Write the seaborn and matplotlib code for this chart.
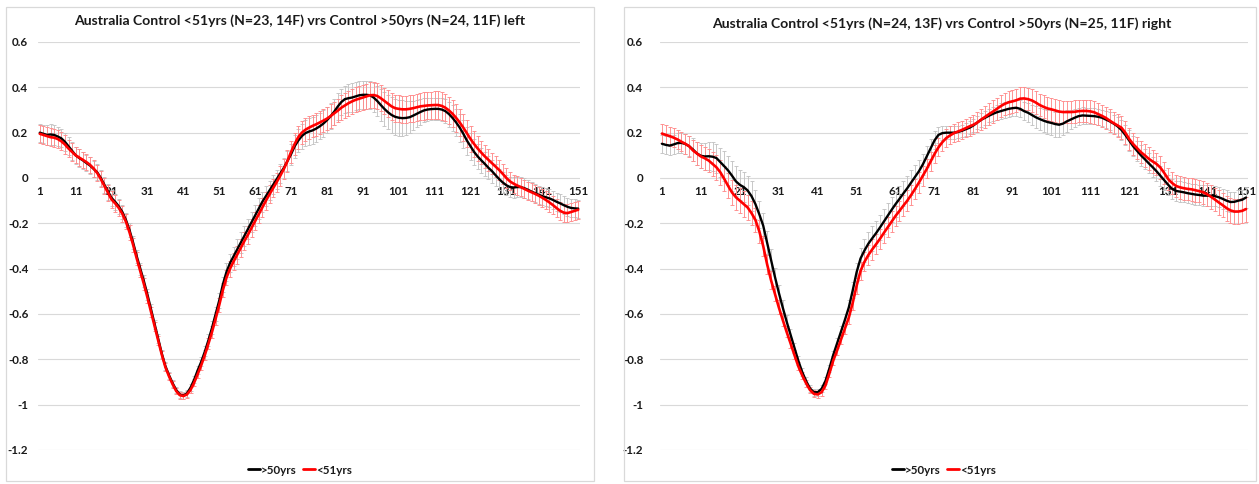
import numpy as np
import pandas as pd
import matplotlib
matplotlib.use("Agg")
import matplotlib.pyplot as plt
from matplotlib.patches import Rectangle
from matplotlib.lines import Line2D
import seaborn as sns

# ---------------- data ----------------
TITLE_LEFT = "Australia Control <51yrs (N=23, 14F) vrs Control >50yrs (N=24, 11F) left"
TITLE_RIGHT = "Australia Control <51yrs (N=24, 13F) vrs Control >50yrs (N=25, 11F) right"
SERIES = [">50yrs", "<51yrs"]
X_TICK_LABELS = ["1", "11", "21", "31", "41", "51", "61", "71", "81", "91",
                 "101", "111", "121", "131", "141", "151"]
Y_TICKS = [0.6, 0.4, 0.2, 0, -0.2, -0.4, -0.6, -0.8, -1, -1.2]
Y_TICK_LABELS = ["0.6", "0.4", "0.2", "0", "-0.2", "-0.4", "-0.6", "-0.8", "-1", "-1.2"]

left_old = [
    0.200, 0.195, 0.190, 0.192, 0.190, 0.183, 0.175, 0.160, 0.140, 0.120,
    0.100, 0.088, 0.078, 0.066, 0.055, 0.040, 0.025, 0.000, -0.030, -0.060,
    -0.088, -0.105, -0.125, -0.150, -0.185, -0.230, -0.285, -0.345, -0.400, -0.455,
    -0.515, -0.580, -0.645, -0.710, -0.775, -0.830, -0.870, -0.905, -0.935, -0.955,
    -0.960, -0.950, -0.925, -0.890, -0.848, -0.810, -0.765, -0.715, -0.660, -0.600,
    -0.540, -0.470, -0.415, -0.375, -0.345, -0.315, -0.285, -0.255, -0.225, -0.195,
    -0.165, -0.135, -0.105, -0.080, -0.055, -0.030, -0.005, 0.020, 0.045, 0.075,
    0.105, 0.140, 0.165, 0.185, 0.198, 0.205, 0.210, 0.218, 0.228, 0.240,
    0.255, 0.272, 0.292, 0.315, 0.335, 0.348, 0.352, 0.355, 0.360, 0.365,
    0.367, 0.367, 0.365, 0.355, 0.340, 0.322, 0.305, 0.290, 0.278, 0.270,
    0.266, 0.264, 0.265, 0.268, 0.275, 0.283, 0.291, 0.298, 0.302, 0.304,
    0.305, 0.305, 0.302, 0.295, 0.282, 0.265, 0.245, 0.222, 0.195, 0.165,
    0.140, 0.115, 0.095, 0.078, 0.062, 0.045, 0.030, 0.012, -0.005, -0.020,
    -0.032, -0.040, -0.042, -0.040, -0.040, -0.045, -0.052, -0.060, -0.067, -0.074,
    -0.080, -0.085, -0.090, -0.097, -0.105, -0.112, -0.120, -0.127, -0.132, -0.134,
    -0.135,
]
left_young = [
    0.195, 0.190, 0.185, 0.180, 0.178, 0.172, 0.162, 0.148, 0.130, 0.115,
    0.100, 0.090, 0.080, 0.070, 0.058, 0.042, 0.022, -0.005, -0.035, -0.065,
    -0.095, -0.112, -0.132, -0.158, -0.193, -0.240, -0.295, -0.355, -0.412, -0.468,
    -0.528, -0.592, -0.655, -0.718, -0.780, -0.835, -0.875, -0.910, -0.940, -0.958,
    -0.962, -0.955, -0.935, -0.903, -0.865, -0.825, -0.780, -0.730, -0.678, -0.620,
    -0.560, -0.495, -0.440, -0.400, -0.368, -0.338, -0.308, -0.278, -0.250, -0.220,
    -0.190, -0.160, -0.130, -0.100, -0.072, -0.045, -0.018, 0.010, 0.040, 0.075,
    0.115, 0.150, 0.180, 0.200, 0.213, 0.222, 0.230, 0.237, 0.245, 0.253,
    0.262, 0.273, 0.285, 0.297, 0.310, 0.320, 0.330, 0.338, 0.345, 0.350,
    0.355, 0.360, 0.365, 0.366, 0.362, 0.352, 0.340, 0.328, 0.316, 0.308,
    0.305, 0.303, 0.303, 0.305, 0.308, 0.312, 0.316, 0.318, 0.320, 0.321,
    0.322, 0.322, 0.318, 0.310, 0.298, 0.283, 0.265, 0.245, 0.222, 0.197,
    0.172, 0.150, 0.130, 0.112, 0.095, 0.080, 0.065, 0.050, 0.035, 0.018,
    0.000, -0.015, -0.025, -0.033, -0.040, -0.048, -0.056, -0.063, -0.070, -0.078,
    -0.087, -0.097, -0.108, -0.120, -0.133, -0.145, -0.153, -0.155, -0.150, -0.145,
    -0.140,
]
left_old_err = [
    0.040, 0.040, 0.045, 0.045, 0.045, 0.040, 0.040, 0.040, 0.040, 0.040,
    0.038, 0.038, 0.038, 0.036, 0.036, 0.035, 0.035, 0.035, 0.035, 0.035,
    0.035, 0.034, 0.034, 0.033, 0.032, 0.030, 0.030, 0.028, 0.026, 0.025,
    0.024, 0.022, 0.020, 0.020, 0.018, 0.018, 0.016, 0.016, 0.015, 0.015,
    0.015, 0.015, 0.015, 0.016, 0.018, 0.020, 0.022, 0.025, 0.028, 0.030,
    0.033, 0.035, 0.038, 0.040, 0.042, 0.044, 0.045, 0.045, 0.045, 0.045,
    0.045, 0.045, 0.044, 0.043, 0.042, 0.042, 0.042, 0.043, 0.044, 0.045,
    0.047, 0.050, 0.052, 0.055, 0.057, 0.058, 0.058, 0.058, 0.058, 0.058,
    0.058, 0.058, 0.058, 0.058, 0.058, 0.060, 0.062, 0.062, 0.062, 0.062,
    0.062, 0.062, 0.062, 0.064, 0.066, 0.070, 0.074, 0.076, 0.078, 0.080,
    0.080, 0.078, 0.075, 0.070, 0.065, 0.060, 0.056, 0.053, 0.050, 0.050,
    0.050, 0.050, 0.050, 0.052, 0.055, 0.058, 0.060, 0.062, 0.062, 0.062,
    0.060, 0.058, 0.056, 0.054, 0.052, 0.050, 0.050, 0.048, 0.046, 0.045,
    0.045, 0.045, 0.045, 0.045, 0.044, 0.043, 0.042, 0.042, 0.040, 0.040,
    0.040, 0.040, 0.040, 0.040, 0.040, 0.040, 0.040, 0.040, 0.040, 0.040,
    0.040,
]
left_young_err = [
    0.040, 0.040, 0.040, 0.040, 0.040, 0.040, 0.040, 0.040, 0.038, 0.038,
    0.036, 0.036, 0.036, 0.036, 0.036, 0.036, 0.036, 0.036, 0.036, 0.036,
    0.036, 0.036, 0.035, 0.034, 0.033, 0.032, 0.030, 0.028, 0.026, 0.025,
    0.024, 0.022, 0.020, 0.020, 0.018, 0.018, 0.016, 0.016, 0.015, 0.015,
    0.015, 0.015, 0.015, 0.016, 0.018, 0.020, 0.022, 0.024, 0.026, 0.028,
    0.030, 0.032, 0.034, 0.036, 0.038, 0.040, 0.040, 0.040, 0.040, 0.040,
    0.040, 0.040, 0.040, 0.040, 0.040, 0.040, 0.042, 0.044, 0.046, 0.048,
    0.050, 0.050, 0.050, 0.050, 0.050, 0.050, 0.050, 0.050, 0.052, 0.052,
    0.052, 0.052, 0.052, 0.052, 0.054, 0.054, 0.055, 0.055, 0.056, 0.056,
    0.056, 0.056, 0.057, 0.057, 0.058, 0.058, 0.058, 0.060, 0.060, 0.060,
    0.060, 0.060, 0.060, 0.060, 0.060, 0.060, 0.060, 0.060, 0.060, 0.060,
    0.060, 0.060, 0.060, 0.060, 0.060, 0.060, 0.060, 0.060, 0.060, 0.060,
    0.058, 0.056, 0.054, 0.052, 0.050, 0.048, 0.046, 0.045, 0.044, 0.043,
    0.042, 0.040, 0.040, 0.040, 0.040, 0.040, 0.040, 0.040, 0.040, 0.040,
    0.040, 0.040, 0.040, 0.040, 0.040, 0.040, 0.040, 0.040, 0.040, 0.040,
    0.040,
]

right_old = [
    0.151, 0.146, 0.143, 0.148, 0.154, 0.155, 0.150, 0.140, 0.125, 0.108,
    0.098, 0.095, 0.096, 0.094, 0.088, 0.070, 0.052, 0.033, 0.010, -0.015,
    -0.030, -0.040, -0.055, -0.080, -0.115, -0.160, -0.210, -0.285, -0.360, -0.435,
    -0.505, -0.570, -0.632, -0.690, -0.748, -0.805, -0.855, -0.895, -0.928, -0.945,
    -0.945, -0.930, -0.895, -0.840, -0.780, -0.728, -0.676, -0.625, -0.570, -0.495,
    -0.415, -0.355, -0.320, -0.290, -0.266, -0.243, -0.218, -0.192, -0.166, -0.140,
    -0.115, -0.092, -0.068, -0.045, -0.020, 0.005, 0.030, 0.060, 0.095, 0.130,
    0.166, 0.190, 0.198, 0.200, 0.200, 0.200, 0.203, 0.208, 0.215, 0.222,
    0.232, 0.245, 0.257, 0.266, 0.275, 0.283, 0.290, 0.295, 0.300, 0.305,
    0.308, 0.310, 0.305, 0.295, 0.288, 0.278, 0.268, 0.260, 0.253, 0.247,
    0.243, 0.238, 0.235, 0.240, 0.250, 0.258, 0.266, 0.273, 0.276, 0.275,
    0.274, 0.273, 0.270, 0.266, 0.258, 0.250, 0.240, 0.228, 0.212, 0.190,
    0.165, 0.140, 0.120, 0.100, 0.083, 0.065, 0.048, 0.030, 0.010, -0.010,
    -0.030, -0.048, -0.057, -0.060, -0.063, -0.067, -0.070, -0.073, -0.075, -0.078,
    -0.078, -0.078, -0.080, -0.085, -0.092, -0.100, -0.106, -0.105, -0.100, -0.096,
    -0.086,
]
right_young = [
    0.196, 0.190, 0.185, 0.178, 0.170, 0.160, 0.151, 0.140, 0.121, 0.108,
    0.095, 0.087, 0.077, 0.062, 0.047, 0.025, -0.004, -0.035, -0.064, -0.085,
    -0.100, -0.115, -0.130, -0.155, -0.185, -0.235, -0.300, -0.380, -0.450, -0.510,
    -0.570, -0.625, -0.678, -0.728, -0.780, -0.830, -0.870, -0.905, -0.935, -0.952,
    -0.955, -0.945, -0.915, -0.862, -0.805, -0.760, -0.712, -0.664, -0.615, -0.550,
    -0.475, -0.410, -0.370, -0.340, -0.315, -0.292, -0.268, -0.242, -0.217, -0.192,
    -0.167, -0.145, -0.122, -0.100, -0.075, -0.048, -0.020, 0.010, 0.040, 0.073,
    0.106, 0.135, 0.158, 0.176, 0.188, 0.198, 0.205, 0.212, 0.220, 0.228,
    0.235, 0.245, 0.258, 0.270, 0.282, 0.293, 0.305, 0.317, 0.327, 0.334,
    0.338, 0.343, 0.350, 0.351, 0.348, 0.342, 0.333, 0.322, 0.314, 0.307,
    0.303, 0.298, 0.293, 0.291, 0.291, 0.291, 0.292, 0.295, 0.296, 0.296,
    0.294, 0.290, 0.282, 0.274, 0.265, 0.253, 0.242, 0.232, 0.222, 0.200,
    0.172, 0.150, 0.132, 0.114, 0.100, 0.085, 0.073, 0.062, 0.046, 0.022,
    -0.005, -0.022, -0.035, -0.041, -0.045, -0.048, -0.050, -0.054, -0.058, -0.063,
    -0.072, -0.083, -0.095, -0.108, -0.120, -0.133, -0.143, -0.148, -0.148, -0.145,
    -0.137,
]
right_old_err = [
    0.040, 0.040, 0.040, 0.040, 0.045, 0.045, 0.045, 0.045, 0.050, 0.050,
    0.055, 0.060, 0.062, 0.064, 0.064, 0.064, 0.065, 0.065, 0.066, 0.066,
    0.066, 0.066, 0.066, 0.066, 0.064, 0.060, 0.055, 0.050, 0.045, 0.040,
    0.035, 0.030, 0.028, 0.025, 0.022, 0.020, 0.018, 0.016, 0.015, 0.015,
    0.015, 0.015, 0.015, 0.016, 0.018, 0.020, 0.022, 0.025, 0.030, 0.035,
    0.040, 0.045, 0.050, 0.052, 0.054, 0.055, 0.055, 0.055, 0.055, 0.055,
    0.055, 0.055, 0.055, 0.055, 0.054, 0.052, 0.050, 0.048, 0.046, 0.044,
    0.040, 0.036, 0.032, 0.030, 0.028, 0.028, 0.028, 0.028, 0.028, 0.030,
    0.030, 0.030, 0.030, 0.030, 0.030, 0.032, 0.034, 0.035, 0.035, 0.035,
    0.035, 0.036, 0.038, 0.040, 0.042, 0.045, 0.048, 0.050, 0.052, 0.054,
    0.055, 0.055, 0.055, 0.052, 0.048, 0.044, 0.040, 0.038, 0.036, 0.035,
    0.035, 0.035, 0.035, 0.036, 0.038, 0.040, 0.040, 0.042, 0.044, 0.045,
    0.045, 0.045, 0.045, 0.045, 0.045, 0.045, 0.045, 0.045, 0.045, 0.045,
    0.045, 0.045, 0.045, 0.045, 0.045, 0.045, 0.045, 0.045, 0.045, 0.045,
    0.045, 0.045, 0.045, 0.045, 0.045, 0.045, 0.045, 0.045, 0.045, 0.045,
    0.045,
]
right_young_err = [
    0.042, 0.042, 0.042, 0.042, 0.042, 0.042, 0.044, 0.046, 0.048, 0.050,
    0.050, 0.050, 0.052, 0.054, 0.055, 0.055, 0.055, 0.055, 0.056, 0.056,
    0.056, 0.056, 0.055, 0.054, 0.052, 0.050, 0.046, 0.042, 0.038, 0.034,
    0.030, 0.028, 0.025, 0.022, 0.020, 0.018, 0.016, 0.015, 0.015, 0.015,
    0.015, 0.015, 0.015, 0.016, 0.018, 0.020, 0.022, 0.025, 0.028, 0.032,
    0.036, 0.040, 0.042, 0.044, 0.045, 0.045, 0.045, 0.045, 0.045, 0.045,
    0.045, 0.045, 0.045, 0.045, 0.045, 0.045, 0.045, 0.044, 0.042, 0.040,
    0.040, 0.040, 0.040, 0.040, 0.040, 0.040, 0.040, 0.040, 0.040, 0.042,
    0.042, 0.044, 0.046, 0.048, 0.050, 0.050, 0.050, 0.050, 0.050, 0.050,
    0.050, 0.050, 0.050, 0.050, 0.050, 0.050, 0.050, 0.050, 0.050, 0.050,
    0.050, 0.050, 0.050, 0.050, 0.050, 0.050, 0.050, 0.050, 0.050, 0.050,
    0.050, 0.050, 0.050, 0.050, 0.050, 0.050, 0.050, 0.050, 0.050, 0.050,
    0.050, 0.050, 0.050, 0.050, 0.050, 0.050, 0.050, 0.050, 0.050, 0.050,
    0.050, 0.050, 0.050, 0.050, 0.050, 0.050, 0.050, 0.050, 0.050, 0.050,
    0.052, 0.052, 0.052, 0.054, 0.054, 0.055, 0.055, 0.055, 0.055, 0.055,
    0.055,
]

# ---------------- style ----------------
sns.set_theme(style="white")
plt.rcParams["font.family"] = ["Lato", "DejaVu Sans"]

LINE_COLORS = {">50yrs": "#000000", "<51yrs": "#FF0000"}
ERR_COLORS = {">50yrs": "#C4C4C4", "<51yrs": "#FF8C8C"}
GRID_COLOR = "#D9D9D9"
TEXT_COLOR = "#1A1A1A"

W, H = 1259, 484
fig = plt.figure(figsize=(W / 100, H / 100), dpi=100)
fig.patch.set_facecolor("white")


def fx(px):
    return px / W


def fy(py):
    return 1 - py / H


# panel borders
for (x0, x1) in [(6, 594), (624, 1256)]:
    fig.add_artist(Rectangle((fx(x0), fy(481)), fx(x1 - x0), (481 - 7) / H,
                             transform=fig.transFigure, fill=False,
                             edgecolor=GRID_COLOR, linewidth=0.9))

panels = [
    dict(title=TITLE_LEFT, old=left_old, young=left_young,
         old_err=left_old_err, young_err=left_young_err,
         ax_px=(38, 580), ypad=7, title_xy=(300, 21), legend_x=300),
    dict(title=TITLE_RIGHT, old=right_old, young=right_young,
         old_err=right_old_err, young_err=right_young_err,
         ax_px=(660, 1248), ypad=12, title_xy=(942, 24), legend_x=944),
]

y_top_px, y_bot_px = 42, 450
TICK_FS = 8.4

for p in panels:
    x0, x1 = p["ax_px"]
    ax = fig.add_axes([fx(x0), fy(y_bot_px), fx(x1 - x0), (y_bot_px - y_top_px) / H])
    n = len(p["old"])
    x = np.arange(1, n + 1)
    df = pd.DataFrame({
        "x": np.concatenate([x, x]),
        "value": np.concatenate([p["old"], p["young"]]),
        "err": np.concatenate([p["old_err"], p["young_err"]]),
        "series": [SERIES[0]] * n + [SERIES[1]] * n,
    })
    for k, s in enumerate(SERIES):
        sub = df[df["series"] == s]
        ax.errorbar(sub["x"], sub["value"], yerr=sub["err"], fmt="none",
                    ecolor=ERR_COLORS[s], elinewidth=0.65, capsize=1.2,
                    capthick=0.65, zorder=2 + 0.2 * k)
    for k, s in enumerate(SERIES):
        sub = df[df["series"] == s]
        sns.lineplot(data=sub, x="x", y="value", color=LINE_COLORS[s],
                     linewidth=1.7 if k == 0 else 1.9, ax=ax,
                     legend=False, zorder=3 + k)

    ax.set_xlim(0.5, n + 0.5)
    ax.set_ylim(-1.2, 0.6)
    ax.set_yticks(Y_TICKS)
    ax.set_yticklabels(Y_TICK_LABELS)
    ax.set_xticks([int(t) for t in X_TICK_LABELS])
    ax.set_xticklabels(X_TICK_LABELS)
    ax.yaxis.grid(True, color=GRID_COLOR, linewidth=0.8)
    ax.xaxis.grid(False)
    ax.set_axisbelow(True)
    for sp in ax.spines.values():
        sp.set_visible(False)
    ax.spines["bottom"].set_position(("data", 0))
    ax.tick_params(axis="x", length=0, pad=5.5, labelsize=TICK_FS, labelcolor=TEXT_COLOR)
    ax.tick_params(axis="y", length=0, pad=p["ypad"], labelsize=TICK_FS, labelcolor=TEXT_COLOR)
    for lab in ax.get_xticklabels() + ax.get_yticklabels():
        lab.set_fontweight("bold")
    ax.set_xlabel("")
    ax.set_ylabel("")
    ax.set_facecolor("none")

    tx, ty = p["title_xy"]
    fig.text(fx(tx), fy(ty), p["title"], ha="center", va="center",
             fontsize=10.1, fontweight="bold", color=TEXT_COLOR)

    handles = [Line2D([], [], color=LINE_COLORS[s], linewidth=2.0) for s in SERIES]
    leg = fig.legend(handles, SERIES, loc="center", ncol=2, frameon=False,
                     bbox_to_anchor=(fx(p["legend_x"]), fy(470)),
                     handlelength=1.0, handletextpad=0.05, columnspacing=0.6,
                     prop={"size": TICK_FS, "weight": "bold"})
    for t in leg.get_texts():
        t.set_color(TEXT_COLOR)

fig.savefig("out.png", dpi=100, facecolor="white")
